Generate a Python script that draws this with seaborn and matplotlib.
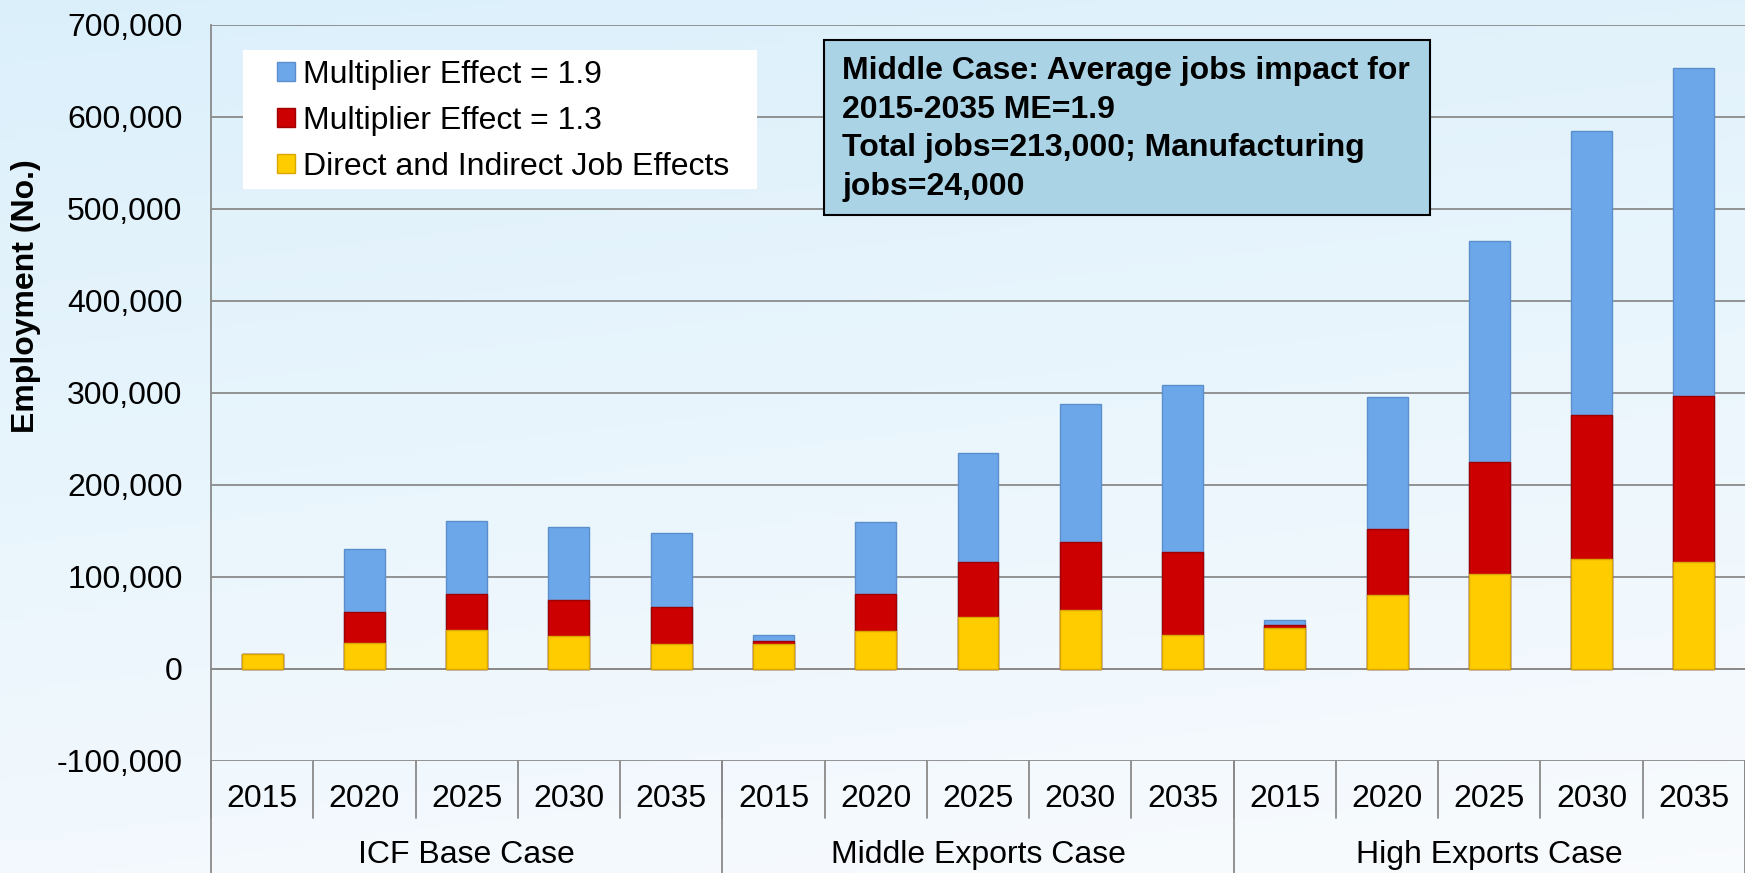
import numpy as np
import pandas as pd
import matplotlib
from matplotlib import pyplot as plt
from matplotlib.patches import Patch, Rectangle
import matplotlib.transforms as mtransforms
import seaborn as sns

groups = ["ICF Base Case", "Middle Exports Case", "High Exports Case"]
years = ["2015", "2020", "2025", "2030", "2035"]

# stacked pieces (jobs)
direct = [15800, 28600, 42000, 36200, 27500,
          26800, 41000, 56200, 63800, 37000,
          44200, 80400, 103600, 119600, 116000]
me13 = [0, 33700, 39900, 39200, 39900,
        3600, 40200, 59800, 74600, 90500,
        3600, 71800, 121100, 156100, 180200]
me19 = [0, 67800, 78600, 78600, 80100,
        6600, 78600, 118600, 149400, 180800,
        5800, 143800, 240800, 309400, 356700]

series = ["Multiplier Effect = 1.9", "Multiplier Effect = 1.3",
          "Direct and Indirect Job Effects"]
colors = ["#6CA7EA", "#CC0000", "#FFCC00"]
edges = ["#5A8FCC", "#A00000", "#D9A800"]

note_lines = ["Middle Case: Average jobs impact for",
              "2015-2035 ME=1.9",
              "Total jobs=213,000; Manufacturing",
              "jobs=24,000"]

yticks = list(range(-100000, 700001, 100000))

df = pd.DataFrame({
    "slot": [f"{g} {y}" for g in groups for y in years],
    "direct": direct, "me13": me13, "me19": me19})
df["top13"] = df["direct"] + df["me13"]
df["top19"] = df["top13"] + df["me19"]

sns.set_style("white")
plt.rcParams['font.family'] = ['Liberation Sans', 'DejaVu Sans']
plt.rcParams['text.color'] = 'black'
plt.rcParams['ytick.labelcolor'] = 'black'
gray = "#8A8A8A"
fs = 23

W, H = 1745, 873
fig = plt.figure(figsize=(W / 100, H / 100), dpi=100)

# pale blue background
bg = fig.add_axes([0, 0, 1, 1], zorder=-10)
yy, xx = np.mgrid[0:1:200j, 0:1:200j]
t = np.clip(0.8 * yy + 0.2 * xx, 0, 1)[..., None]
top = np.array([0.86, 0.94, 0.985])
bot = np.array([0.975, 0.985, 0.995])
bg.imshow(top * (1 - t) + bot * t, extent=[0, 1, 0, 1], origin="upper", aspect="auto")
bg.axis("off")

ax = fig.add_axes([211 / W, 112 / H, (W - 211) / W, (761 - 25) / H])
ax.patch.set_alpha(0)

for col, c, e in zip(["top19", "top13", "direct"], colors, edges):
    sns.barplot(data=df, x="slot", y=col, color=c, width=0.4, saturation=1,
                edgecolor=e, linewidth=1, errorbar=None, ax=ax, zorder=3)

ax.set_ylim(-100000, 700000)
ax.set_xlim(-0.5, 14.5)
ax.set_yticks(yticks)
ax.set_yticklabels([f"{v:,}" for v in yticks], color="black")
ax.set_xticks(np.arange(0.5, 14, 1))
ax.set_xticklabels([])
ax.set_xlabel("")
ax.set_ylabel("")
ax.yaxis.grid(True, color=gray, lw=1.3)
ax.set_axisbelow(True)
for s in ["top", "right"]:
    ax.spines[s].set_visible(False)
ax.spines["left"].set_color(gray)
ax.spines["left"].set_linewidth(1.3)
ax.spines["bottom"].set_position(("data", 0))
ax.spines["bottom"].set_color(gray)
ax.spines["bottom"].set_linewidth(1.3)
ax.tick_params(axis="y", length=6.5, width=1.3, color=gray, pad=14, labelsize=fs)
ax.tick_params(axis="x", direction="out", length=7, width=1.3, color=gray,
               labelbottom=False)

# category table under the plot
trans = mtransforms.blended_transform_factory(ax.transData, ax.transAxes)
for i in range(15):
    ax.text(i, -0.052, years[i % 5], transform=trans, ha="center", va="center",
            fontsize=fs, color="black")
for b in np.arange(-0.5, 15, 1):
    ax.plot([b, b], [0, -0.0774], transform=trans, clip_on=False, color=gray, lw=1.3)
for g in range(4):
    ax.plot([g * 5 - 0.5] * 2, [0, -0.2], transform=trans, clip_on=False,
            color=gray, lw=1.3)
for g, name in enumerate(groups):
    ax.text(g * 5 + 2, -0.128, name, transform=trans, ha="center", va="center",
            fontsize=fs, color="black")

fig.text(26 / W, 1 - 296 / H, "Employment (No.)", rotation=90, ha="center",
         va="center", fontsize=fs, fontweight="bold", color="black")

# legend
fig.patches.append(Rectangle((243 / W, 1 - 189 / H), 514 / W, 139 / H,
                             transform=fig.transFigure, facecolor="white",
                             edgecolor="none", zorder=1))
handles = [Patch(facecolor=c, edgecolor=e) for c, e in zip(colors, edges)]
leg = fig.legend(handles, series, loc="upper left",
                 bbox_to_anchor=(277 / W, 1 - 60 / H),
                 frameon=False, fontsize=fs, handlelength=0.55, handleheight=0.55,
                 handletextpad=0.25, labelspacing=0.5, borderpad=0, borderaxespad=0)
for txt in leg.get_texts():
    txt.set_color("black")

# note box
fig.patches.append(Rectangle((824 / W, 1 - 215 / H), 606 / W, 175 / H,
                             transform=fig.transFigure, facecolor="#AAD4E6",
                             edgecolor="black", lw=1.5, zorder=1))
for k, line in enumerate(note_lines):
    fig.text(842 / W, 1 - (71 + 38.5 * k) / H, line, ha="left", va="center",
             fontsize=fs, fontweight="bold", color="black", zorder=2)

fig.savefig("out.png", dpi=100)
